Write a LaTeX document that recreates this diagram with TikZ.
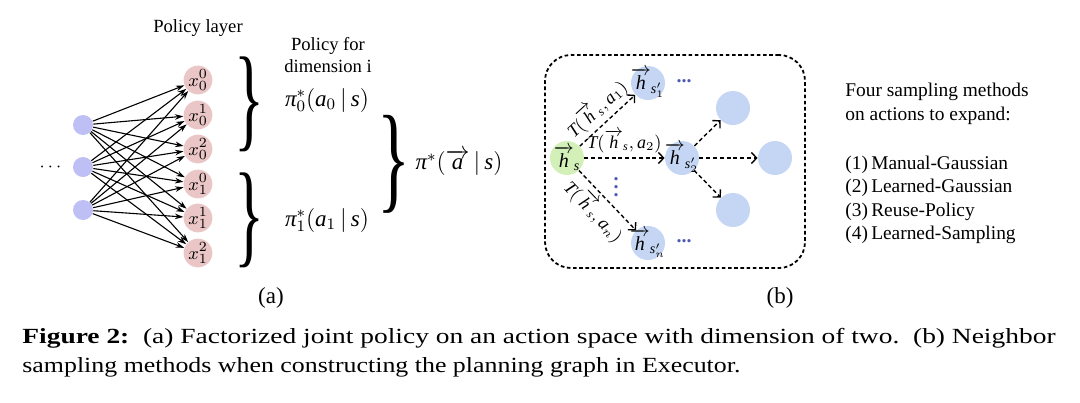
\documentclass[tikz,border=0pt]{standalone}
\usepackage{fontspec}
\setmainfont{Liberation Serif}
\usepackage{amsmath}
\usepackage{graphicx}
\usetikzlibrary{arrows.meta}
\newcommand\ti[1]{\text{\itshape #1}}
\newcommand\cl[1]{\makebox[0pt]{#1}}
\definecolor{lav}{RGB}{190,192,245}
\definecolor{pinkc}{RGB}{234,198,198}
\definecolor{bluec}{RGB}{196,214,243}
\definecolor{greenc}{RGB}{211,240,185}
\definecolor{dotblue}{RGB}{80,90,180}
\begin{document}
\begin{tikzpicture}[x=0.5pt,y=-0.5pt,
  inp/.style={circle,fill=lav,minimum size=10pt,inner sep=0pt},
  pol/.style={circle,fill=pinkc,minimum size=13.5pt,inner sep=0pt,font=\fontsize{9.5}{10}\selectfont},
  nb/.style={circle,fill=bluec,minimum size=17pt,inner sep=0pt,font=\fontsize{10}{11}\selectfont},
  cur/.style={circle,fill=greenc,minimum size=17pt,inner sep=0pt,font=\fontsize{10}{11}\selectfont},
  link/.style={-{Stealth[length=4.2pt,width=2.8pt]},line width=0.55pt},
  trans/.style={dash pattern=on 2pt off 1.4pt,line width=0.7pt,-{Straight Barb[length=2.6pt,width=5.5pt,line width=0.7pt]}},
  lbl/.style={font=\fontsize{9}{10}\selectfont,inner sep=2pt},
  txt/.style={font=\fontsize{9.7}{12}\selectfont,inner sep=0pt},
  mth/.style={font=\fontsize{11.5}{13}\selectfont,inner sep=0pt},
  small/.style={font=\fontsize{9.3}{11}\selectfont,inner sep=0pt},
  dotsty/.style={text=dotblue,font=\fontsize{10}{10}\selectfont\bfseries,inner sep=0pt},
]
\useasboundingbox (0,0) rectangle (1080,402);
\fill[white] (0,0) rectangle (1080,402);

% ---------- panel (a) ----------
\node[small] (pl) at (198,28) {Policy layer};
\node[inp] (i1) at (83,125) {};
\node[inp] (i2) at (83,167) {};
\node[inp] (i3) at (83,210) {};
\node[inner sep=0pt,font=\fontsize{9}{10}\selectfont] (ldots) at (52,167) {$\cdots$};
\node[pol] (p00) at (198,80) {$x_0^0$};
\node[pol] (p01) at (198,115) {$x_0^1$};
\node[pol] (p02) at (198,149) {$x_0^2$};
\node[pol] (p10) at (198,184) {$x_1^0$};
\node[pol] (p11) at (198,218) {$x_1^1$};
\node[pol] (p12) at (198,253) {$x_1^2$};
\foreach \i in {i1,i2,i3}
  \foreach \p in {p00,p01,p02,p10,p11,p12}
    \draw[link] (\i) -- (\p);

\node[inner sep=0pt] (b1) at (249,104.5) {\resizebox*{15pt}{47.5pt}{\fontsize{40}{40}\selectfont\}}};
\node[inner sep=0pt] (b2) at (249,220.5) {\resizebox*{15pt}{47.5pt}{\fontsize{40}{40}\selectfont\}}};
\node[small,align=center] (pf) at (328,55) {Policy for\\dimension i};
\node[mth] (pi0) at (327,100) {$\ti{π}^{*}_{0}(\ti{a}_{0}\,|\,\ti{s})$};
\node[mth] (pi1) at (327,220) {$\ti{π}^{*}_{1}(\ti{a}_{1}\,|\,\ti{s})$};
\node[inner sep=0pt] (b3) at (394,164) {\resizebox*{16.5pt}{49pt}{\fontsize{40}{40}\selectfont\}}};
\node[mth] (pi) at (459,163) {$\ti{π}^{*}(\overrightarrow{\ti{a}}\,|\,\ti{s})$};
\node[mth] (capa) at (271,298) {(a)};

% ---------- panel (b) ----------
\node[draw,dash pattern=on 1.8pt off 1.3pt,line width=0.9pt,rounded corners=13pt,
      minimum width=130pt,minimum height=106.5pt,inner sep=0pt] (frame) at (675,161.5) {};
\node[cur] (hs) at (567,158) {\cl{$\overrightarrow{\ti{h}}_{\ti{s}}$}};
\node[nb] (s1) at (648,83) {\cl{$\overrightarrow{\ti{h}}_{\ti{s}'_{1}}$}};
\node[nb] (s2) at (682,158) {\cl{$\overrightarrow{\ti{h}}_{\ti{s}'_{2}}$}};
\node[nb] (sn) at (648,243) {\cl{$\overrightarrow{\ti{h}}_{\ti{s}'_{n}}$}};
\node[nb] (r1) at (733,108) {};
\node[nb] (r2) at (775,158) {};
\node[nb] (r3) at (733,210) {};
\node[dotsty] (d1) at (684,81) {...};
\node[dotsty] (d2) at (684,241) {...};
\node[dotsty] (vd) at (616,181) {\cl{$\vdots$}};

\draw[trans] (hs) -- node[lbl,sloped,above,pos=0.5] {$\ti{T}(\overrightarrow{\ti{h}}_{\ti{s}},\ti{a}_{1})$} (s1);
\draw[trans] (hs) -- node[lbl,above] {$\ti{T}(\overrightarrow{\ti{h}}_{\ti{s}},\ti{a}_{2})$} (s2);
\draw[trans] (hs) -- node[lbl,sloped,below,pos=0.48] {$\ti{T}(\overrightarrow{\ti{h}}_{\ti{s}},\ti{a}_{n})$} (sn);
\draw[trans] (s2) -- (r1);
\draw[trans] (s2) -- (r2);
\draw[trans] (s2) -- (r3);
\node[mth] (capb) at (780,298) {(b)};

% ---------- right text ----------
\node[txt,anchor=west] (t1) at (845,92) {Four sampling methods};
\node[txt,anchor=west] (t2) at (845,116) {on actions to expand:};
\node[txt,anchor=west] (m1) at (845,165) {(1)\,Manual-Gaussian};
\node[txt,anchor=west] (m2) at (845,188) {(2)\,Learned-Gaussian};
\node[txt,anchor=west] (m3) at (845,212) {(3)\,Reuse-Policy};
\node[txt,anchor=west] (m4) at (845,235) {(4)\,Learned-Sampling};

% ---------- caption ----------
\node[inner sep=0pt,anchor=base west,font=\fontsize{10.8}{12}\selectfont] (cap1) at (22,343)
  {\resizebox{516.5pt}{\height}{\textbf{Figure 2:}\ \ (a) Factorized joint policy on an action space with dimension of two.\ \ (b) Neighbor}};
\node[inner sep=0pt,anchor=base west,font=\fontsize{10.8}{12}\selectfont] (cap2) at (22,372)
  {\resizebox{359pt}{\height}{sampling methods when constructing the planning graph in Executor.}};
\end{tikzpicture}
\end{document}
